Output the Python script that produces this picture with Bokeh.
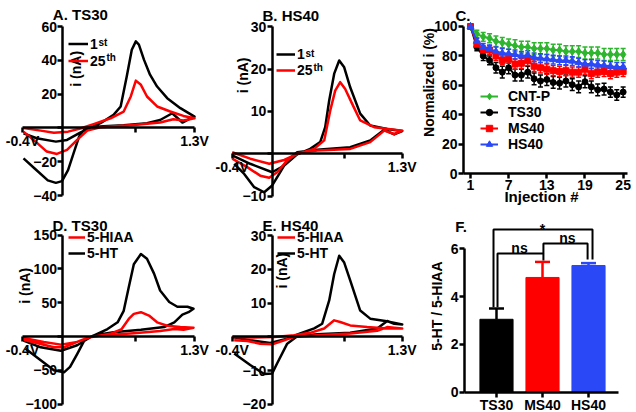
import math
from bokeh.plotting import figure
from bokeh.models import (LinearAxis, FixedTicker, Label, Legend, LegendItem,
                          ColumnDataSource, Whisker, TeeHead, Range1d)
from bokeh.layouts import row, column
from bokeh.embed import file_html
from bokeh.resources import INLINE

FONT = "Liberation Sans"
RED = "#FF0000"
BLUE = "#2A48F5"
GREEN = "#2DB52D"

# ---------------- Panel A: TS30, 1st vs 25th injection (V, nA)
A_1st_V = [-0.39, -0.26, -0.07, 0.04, 0.17, 0.27, 0.37, 0.50, 0.57, 0.63, 0.68, 0.72, 0.75, 0.80, 0.86, 0.93, 1.03, 1.16, 1.30,
           1.26, 1.18, 1.08, 0.96, 0.83, 0.60, 0.40, 0.27, 0.21, 0.16, 0.11, 0.05, -0.01, -0.07, -0.15, -0.28, -0.39]
A_1st_I = [-3.2, -6.1, -8.1, -7.1, -2.8, 0.2, 2.8, 7.7, 12.7, 30.5, 46.3, 51.2, 49.3, 40.4, 31.5, 24.5, 17.6, 11.7, 6.7,
           5.7, 3.2, 8.7, 4.7, 2.8, 1.6, 1.0, 0.4, -1.0, -5.0, -14.0, -25.0, -31.5, -32.5, -31.0, -24.0, -18.0]
A_25_V = [-0.39, -0.22, -0.09, 0.05, 0.18, 0.31, 0.47, 0.60, 0.67, 0.72, 0.77, 0.83, 0.93, 1.06, 1.19, 1.30,
          1.19, 1.09, 0.96, 0.70, 0.37, 0.24, 0.14, 0.04, -0.06, -0.16, -0.29, -0.39]
A_25_I = [0.0, -1.6, -2.8, -2.2, -0.2, 2.4, 5.7, 9.7, 18.6, 28.0, 25.5, 18.6, 12.7, 9.7, 7.1, 5.7,
          4.4, 5.1, 3.2, 1.8, 0.4, -1.6, -7.1, -13.0, -15.4, -14.0, -7.1, -2.2]

# ---------------- Panel B: HS40, 1st vs 25th injection
B_1st_V = [-0.40, -0.22, 0.0, 0.12, 0.25, 0.38, 0.48, 0.53, 0.57, 0.62, 0.67, 0.72, 0.78, 0.88, 0.98, 1.15, 1.30,
           1.22, 1.12, 0.98, 0.78, 0.45, 0.25, 0.15, 0.07, 0.0, -0.08, -0.18, -0.28, -0.38]
B_1st_I = [-0.35, -2.3, -4.3, -2.7, -0.1, 1.2, 2.8, 6.3, 12.6, 18.9, 22.0, 20.4, 15.7, 9.5, 6.7, 5.9, 5.4,
           4.6, 5.7, 3.2, 1.6, 1.0, 0.4, -1.5, -4.7, -7.4, -9.0, -7.8, -4.7, -2.3]
B_25_V = [-0.40, -0.22, -0.03, 0.12, 0.25, 0.42, 0.52, 0.58, 0.63, 0.68, 0.73, 0.80, 0.88, 1.02, 1.30,
          1.22, 1.12, 0.98, 0.78, 0.45, 0.25, 0.15, 0.05, -0.03, -0.12, -0.25, -0.40]
B_25_I = [0.4, -1.1, -2.3, -1.4, 0.0, 1.2, 3.2, 10.2, 14.9, 16.9, 15.3, 11.8, 7.9, 6.3, 5.5,
          4.7, 5.5, 2.8, 1.2, 0.8, 0.2, -1.5, -4.3, -5.6, -5.1, -3.1, -1.1]

# ---------------- Panel C: normalized current vs injection
inj = list(range(1, 26))
cntp = [100, 95, 93, 92, 90, 89, 88, 87, 86, 86, 85, 85, 85, 84, 84, 83, 83, 83, 82, 82, 82, 81, 81, 81, 81]
cntp_err = [0, 2.5, 3, 3, 3.5, 3.5, 3.5, 4, 4, 4, 4, 4, 4, 4, 4, 4, 4, 4, 4, 4, 4, 4, 4, 4, 4]
ts30 = [100, 86, 80, 77, 72, 69, 72, 67, 67, 69, 64.5, 63, 64, 62, 61.5, 63, 60.5, 59, 62.5, 59, 57, 57.5, 55.5, 53.5, 55.5]
ts30_err = [0, 2.5, 3, 3, 3.5, 4, 4, 4, 4, 4, 4, 4, 4, 4, 4, 4, 4, 4, 4, 4, 4, 4, 3.5, 3.5, 3.5]
ms40 = [100, 88, 84, 84, 80, 77, 78, 74.5, 75, 77, 73, 72, 71, 70, 69.5, 70, 69, 69, 71, 68, 69, 69.5, 68, 69, 69.5]
ms40_err = [0, 2, 3, 3, 3, 3, 3, 3.5, 3.5, 3.5, 3.5, 3.5, 3.5, 3.5, 3.5, 3.5, 3.5, 3.5, 3.5, 3.5, 3.5, 3.5, 3.5, 3.5, 3.5]
hs40 = [100, 90, 86, 85, 83, 82, 81.5, 81, 80, 80.5, 79, 78.5, 78, 77.5, 77, 77, 76.5, 75.5, 74.5, 74.5, 74, 73.5, 73, 72.5, 72.5]
hs40_err = [0, 2, 2.5, 2.5, 3, 3, 3, 3, 3, 3, 3, 3, 3, 3, 3, 3, 3, 3, 3, 3, 3, 3, 3, 3, 3]

# ---------------- Panel D: TS30, 5-HT vs 5-HIAA
D_HT_V = [-0.39, -0.22, -0.02, 0.14, 0.27, 0.44, 0.54, 0.60, 0.65, 0.70, 0.77, 0.83, 0.90, 0.96, 1.05, 1.13, 1.23, 1.29,
          1.24, 1.18, 1.10, 1.00, 0.77, 0.50, 0.30, 0.21, 0.14, 0.07, 0.01, -0.09, -0.22, -0.37]
D_HT_I = [-6, -16, -21, -13, -1, 11, 21, 38, 73, 107, 122, 115, 93, 68, 51, 44, 44, 41,
          36, 32.5, 21, 14, 10, 6.4, 1.5, -6, -26, -45, -53, -50, -35, -18]
D_HIAA_V = [-0.39, -0.19, -0.02, 0.14, 0.27, 0.47, 0.58, 0.65, 0.70, 0.77, 0.85, 0.93, 1.03, 1.16, 1.29,
            1.19, 1.10, 0.96, 0.70, 0.37, 0.24, 0.14, 0.01, -0.09, -0.22, -0.39]
D_HIAA_I = [-2, -8, -12, -8, -1, 4, 11, 26, 33.5, 36, 31, 21, 16, 14, 13,
            10, 11, 8, 5, 1.5, -2, -8, -16, -16, -11, -5]

# ---------------- Panel E: HS40, 5-HT vs 5-HIAA
E_HT_V = [-0.40, -0.22, -0.02, 0.15, 0.28, 0.42, 0.50, 0.57, 0.62, 0.67, 0.72, 0.78, 0.88, 0.98, 1.13, 1.30,
          1.22, 1.15, 1.05, 0.78, 0.45, 0.25, 0.15, 0.05, 0.0, -0.08, -0.22, -0.38]
E_HT_I = [0, -1.0, -1.8, -0.5, 1.0, 2.5, 3.9, 10.8, 18.6, 24.0, 22.0, 16.7, 7.8, 5.4, 4.7, 3.7,
          3.9, 4.7, 2.5, 1.2, 0.8, 0.2, -2.0, -7.8, -10.8, -11.0, -8.3, -4.9]
E_HIAA_V = [-0.40, -0.22, 0.02, 0.22, 0.38, 0.52, 0.62, 0.68, 0.78, 0.95, 1.15, 1.30,
            1.22, 1.15, 1.05, 0.78, 0.45, 0.22, 0.12, 0.0, -0.12, -0.25, -0.38]
E_HIAA_I = [0, -0.2, 0, 0.5, 1.2, 2.5, 4.9, 4.4, 3.4, 2.9, 2.5, 2.5,
            2.7, 2.9, 1.8, 1.0, 0.5, 0, -1.0, -2.2, -2.0, -1.2, -1.0]

# ---------------- Panel F: 5-HT / 5-HIAA ratio
f_cats = ["TS30", "MS40", "HS40"]
f_means = [3.05, 4.8, 5.3]
f_errs = [0.45, 0.65, 0.1]
f_colors = ["black", RED, BLUE]

CV_XTICKS = [-0.4, 0.72, 1.3]
CV_XLABELS = {-0.4: "-0.4V", 0.72: "", 1.3: "1.3V"}


def style_axis(ax, size="14px"):
    ax.axis_line_width = 2.5
    ax.axis_line_color = "black"
    ax.major_tick_line_width = 2.5
    ax.major_tick_line_color = "black"
    ax.major_tick_out = 5
    ax.major_tick_in = 0
    ax.minor_tick_out = 0
    ax.minor_tick_in = 0
    ax.major_label_text_font = FONT
    ax.major_label_text_font_style = "bold"
    ax.major_label_text_font_size = size
    ax.major_label_text_color = "black"
    ax.major_label_standoff = 1


def base_fig(w, h, xr, yr):
    # the frame fills the whole figure; axes sit at fixed data locations
    p = figure(width=w, height=h, x_range=Range1d(*xr), y_range=Range1d(*yr),
               toolbar_location=None, output_backend="svg",
               x_axis_type=None, y_axis_type=None,
               min_border_left=0, min_border_right=0, min_border_top=0, min_border_bottom=0,
               title=None)
    p.outline_line_color = None
    p.grid.visible = False
    return p


def add_axes(p, xfix, yfix, xticks, yticks, xbounds, ybounds, xover=None, yover=None, xstand=0):
    yax = LinearAxis(fixed_location=yfix, ticker=FixedTicker(ticks=yticks), bounds=ybounds,
                     major_label_overrides=yover or {})
    style_axis(yax)
    p.add_layout(yax, "left")
    xax = LinearAxis(fixed_location=xfix, ticker=FixedTicker(ticks=xticks), bounds=xbounds,
                     major_label_overrides=xover or {})
    style_axis(xax)
    xax.major_label_standoff = xstand
    p.add_layout(xax, "below")


def label(p, x, y, text, size="15px", angle=0.0, align="left", baseline="alphabetic"):
    p.add_layout(Label(x=x, y=y, text=text, text_font=FONT, text_font_style="bold",
                       text_font_size=size, text_color="black", angle=angle,
                       text_align=align, text_baseline=baseline))


def add_legend(p, items, loc, glyph_w, row_h, size="14px", standoff=2, spacing=0):
    leg = Legend(items=[LegendItem(label=lab, renderers=rs) for lab, rs in items],
                 location=loc, glyph_width=glyph_w, glyph_height=row_h, label_height=row_h,
                 label_standoff=standoff, spacing=spacing, padding=0, margin=0,
                 border_line_color=None, background_fill_alpha=0,
                 label_text_font=FONT, label_text_font_style="bold", label_text_line_height=1.0,
                 label_text_color="black",
                 label_text_font_size=size, label_text_baseline="middle")
    p.add_layout(leg)


def cv_panel(w, h, xr, yr, yticks, curves):
    p = base_fig(w, h, xr, yr)
    add_axes(p, 0, 0, CV_XTICKS, yticks, (-0.4, 1.3), (yticks[0], yticks[-1]),
             xover=CV_XLABELS, yover={0: ""})
    rends = []
    for V, I, col in curves:
        rends.append(p.line(V, I, line_color=col, line_width=2.5, line_join="round"))
    return p, rends


# ---- A  (page x 0..210, y 0..205)
pa, (ra1, ra25) = cv_panel(210, 205, (-0.6174, 1.4577), (-45.9, 75.4), [-40, -20, 0, 20, 40, 60],
                           [(A_1st_V, A_1st_I, "black"), (A_25_V, A_25_I, RED)])
label(pa, -0.10, 67, "A. TS30")
label(pa, 0.124, 35, "i (nA)", size="14px", angle=math.pi / 2, align="center", baseline="middle")
add_legend(pa, [("1", [ra1]), ("25", [ra25])], (68, 136), 20, 17)
label(pa, 0.351, 50.4, "st", size="10px")
label(pa, 0.430, 41.5, "th", size="10px")

# ---- B  (page x 210..417)
pb, (rb1, rb25) = cv_panel(207, 205, (-0.617, 1.453), (-12.12, 36.12), [-10, 0, 10, 20, 30],
                           [(B_1st_V, B_1st_I, "black"), (B_25_V, B_25_I, RED)])
label(pb, -0.097, 32.6, "B. HS40")
label(pb, -0.297, 18.5, "i (nA)", size="14px", angle=math.pi / 2, align="center", baseline="middle")
add_legend(pb, [("1", [rb1]), ("25", [rb25])], (66, 127), 19, 16, spacing=-2)
label(pb, 0.333, 23.6, "st", size="10px")
label(pb, 0.413, 20.3, "th", size="10px")

# ---- C  (page x 417..636)
pc = base_fig(219, 205, (-7.333, 27.10), (-21.52, 117.65))
add_axes(pc, 0, -0.1, [1, 7, 13, 19, 25], [0, 20, 40, 60, 80, 100], (-0.1, 25.69), (0, 100), xstand=1)
c_series = [("CNT-P", cntp, cntp_err, GREEN, "diamond", 8),
            ("TS30", ts30, ts30_err, "black", "circle", 6),
            ("MS40", ms40, ms40_err, RED, "square", 6),
            ("HS40", hs40, hs40_err, BLUE, "triangle", 7)]
c_items = []
for name, vals, errs, col, mk, sz in c_series:
    src = ColumnDataSource(dict(x=inj, y=vals,
                                lo=[v - e for v, e in zip(vals, errs)],
                                hi=[v + e for v, e in zip(vals, errs)]))
    lr = pc.line("x", "y", source=src, line_color=col, line_width=2)
    sr = pc.scatter("x", "y", source=src, marker=mk, size=sz, fill_color=col, line_color=col)
    pc.add_layout(Whisker(base="x", upper="hi", lower="lo", source=src, line_color=col, line_width=1.5,
                          upper_head=TeeHead(size=5, line_color=col, line_width=1.5),
                          lower_head=TeeHead(size=5, line_color=col, line_width=1.5)))
    c_items.append((name, [lr, sr]))
add_legend(pc, c_items, (63, 53), 18, 16, standoff=10, spacing=-2)
label(pc, -1.36, 107.8, "C.")
label(pc, -5.6, 62, "Normalized i (%)", size="14px", angle=math.pi / 2, align="center", baseline="middle")
label(pc, 12.16, -15.6, "Injection #", size="15px", align="center", baseline="middle")

# ---- D  (page x 0..210, y 205..412)
pd, (rd_ht, rd_hiaa) = cv_panel(210, 207, (-0.6174, 1.4577), (-112.4, 193.8), [-100, -50, 0, 50, 100, 150],
                                [(D_HT_V, D_HT_I, "black"), (D_HIAA_V, D_HIAA_I, RED)])
label(pd, -0.104, 164, "D. TS30")
label(pd, -0.38, 75, "i (nA)", size="14px", angle=math.pi / 2, align="center", baseline="middle")
add_legend(pd, [("5-HIAA", [rd_hiaa]), ("5-HT", [rd_ht])], (68, 151), 17, 16, spacing=-3)

# ---- E  (page x 210..417, y 205..412)
pe, (re_ht, re_hiaa) = cv_panel(207, 207, (-0.617, 1.453), (-22.37, 38.88), [-20, -10, 0, 10, 20, 30],
                                [(E_HT_V, E_HT_I, "black"), (E_HIAA_V, E_HIAA_I, RED)])
label(pe, -0.097, 33.0, "E. HS40")
label(pe, 0.093, 19.6, "i (nA)", size="14px", angle=math.pi / 2, align="center", baseline="middle")
add_legend(pe, [("5-HIAA", [re_hiaa]), ("5-HT", [re_ht])], (67, 151), 18, 16, spacing=-3)

# ---- F  (page x 417..636, y 205..412)
pf = base_fig(219, 207, (-1.717, 3.043), (-0.849, 7.81))
add_axes(pf, 0, -0.696, [0, 1, 2], [0, 2, 4, 6], (-0.696, 2.652), (0, 6),
         xover={i: c for i, c in enumerate(f_cats)}, xstand=0)
fx = list(range(len(f_cats)))
pf.vbar(x=fx, top=f_means, width=0.72, fill_color=f_colors, line_color=f_colors)
for i, (m, e, col) in enumerate(zip(f_means, f_errs, f_colors)):
    s = ColumnDataSource(dict(x=[fx[i]], lo=[m], hi=[m + e]))
    pf.add_layout(Whisker(base="x", upper="hi", lower="lo", source=s, line_color=col, line_width=2.5,
                          upper_head=TeeHead(size=15, line_color=col, line_width=2.5), lower_head=None))
tops = [m + e for m, e in zip(f_means, f_errs)]
brackets = [([-0.065, -0.065, 2.087, 2.087], [tops[0] + 0.05, 6.81, 6.81, tops[2] + 0.15]),
            ([0.022, 0.022, 1.02, 1.02], [tops[0] + 0.05, 5.80, 5.80, tops[1] + 0.06]),
            ([1.02, 1.02, 1.98, 1.98], [5.80, 6.22, 6.22, tops[2] + 0.15])]
for bx, by in brackets:
    pf.line(bx, by, line_color="black", line_width=2)
label(pf, 0.50, 6.05, "ns", size="14px", align="center", baseline="middle")
label(pf, 1.54, 6.45, "ns", size="14px", align="center", baseline="middle")
label(pf, 1.00, 6.82, "*", size="14px", align="center")
label(pf, -0.896, 6.95, "F.")
label(pf, -1.283, 3.6, "5-HT / 5-HIAA", size="14px", angle=math.pi / 2, align="center", baseline="middle")

layout = column(row(pa, pb, pc, spacing=0), row(pd, pe, pf, spacing=0), spacing=0)

open("out.html", "w").write(file_html(layout, INLINE))
